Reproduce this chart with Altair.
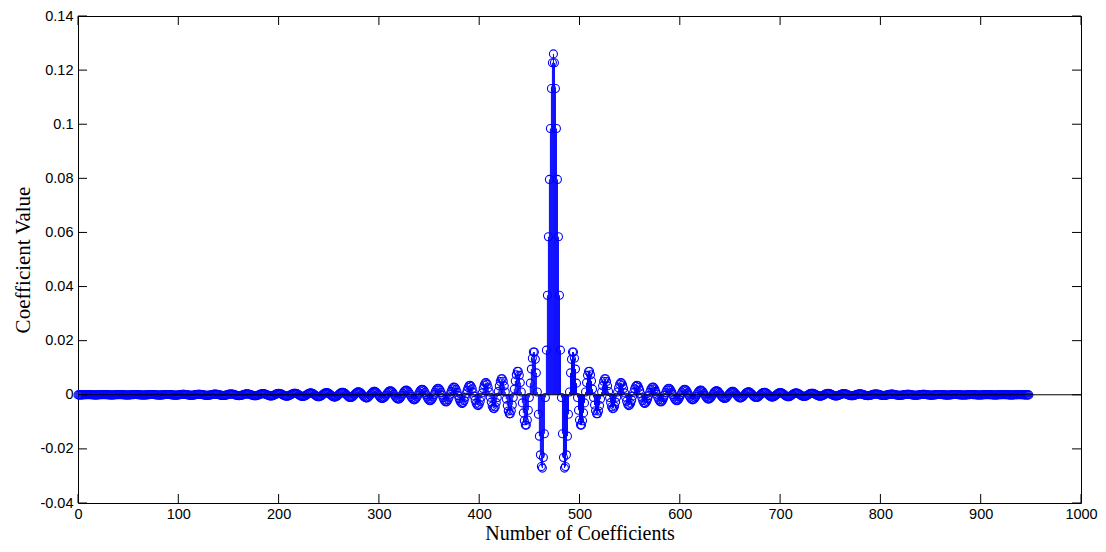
import altair as alt
import pandas as pd

# Filter coefficients from the centre tap (index 474) outwards.
# The filter is symmetric, so the left half mirrors this list.
half_coeffs = [
    0.126, 0.1227, 0.1132, 0.0984, 0.0796, 0.0584, 0.0368, 0.0165,
    -0.0010, -0.0144, -0.0232, -0.0271, -0.0265, -0.0222, -0.0153, -0.0072,
    0.0010, 0.0081, 0.0131, 0.0158, 0.0158, 0.0135, 0.0095, 0.0043,
    -0.0010, -0.0057, -0.0093, -0.0112, -0.0112, -0.0096, -0.0067, -0.0030,
    0.0010, 0.0045, 0.0072, 0.0086, 0.0087, 0.0074, 0.0051, 0.0021,
    -0.0010, -0.0038, -0.0059, -0.0070, -0.0070, -0.0060, -0.0040, -0.0016,
    0.0010, 0.0033, 0.0050, 0.0059, 0.0059, 0.0049, 0.0033, 0.0012,
    -0.0010, -0.0029, -0.0044, -0.0051, -0.0050, -0.0042, -0.0027, -0.0009,
    0.0010, 0.0026, 0.0039, 0.0045, 0.0044, 0.0036, 0.0023, 0.0007,
    -0.0009, -0.0024, -0.0035, -0.0040, -0.0038, -0.0031, -0.0020, -0.0005,
    0.0009, 0.0022, 0.0031, 0.0035, 0.0034, 0.0027, 0.0017, 0.0004,
    -0.0009, -0.0021, -0.0029, -0.0032, -0.0030, -0.0024, -0.0015, -0.0003,
    0.00090, 0.00192, 0.00262, 0.00290, 0.00274, 0.00216, 0.00126, 0.00019,
    -0.00088, -0.00179, -0.00241, -0.00264, -0.00247, -0.00192, -0.00109, -0.00011,
    0.00086, 0.00168, 0.00223, 0.00242, 0.00224, 0.00171, 0.00094, 0.00004,
    -0.00084, -0.00158, -0.00206, -0.00222, -0.00203, -0.00153, -0.00082, 0.00001,
    0.00082, 0.00149, 0.00191, 0.00204, 0.00184, 0.00137, 0.00070, -0.00006,
    -0.00080, -0.00140, -0.00178, -0.00187, -0.00168, -0.00123, -0.00061, 0.00010,
    0.00078, 0.00132, 0.00165, 0.00173, 0.00153, 0.00111, 0.00052, -0.00014,
    -0.00076, -0.00125, -0.00154, -0.00159, -0.00140, -0.00099, -0.00044, 0.00016,
    0.00073, 0.00118, 0.00144, 0.00147, 0.00127, 0.00089, 0.00037, -0.00019,
    -0.00071, -0.00111, -0.00134, -0.00135, -0.00116, -0.00080, -0.00031, 0.00021,
    0.00068, 0.00105, 0.00125, 0.00125, 0.00106, 0.00071, 0.00026, -0.00022,
    -0.00066, -0.00099, -0.00116, -0.00115, -0.00097, -0.00064, -0.00021, 0.00023,
    0.00063, 0.00093, 0.00108, 0.00106, 0.00088, 0.00057, 0.00017, -0.00024,
    -0.00061, -0.00088, -0.00101, -0.00098, -0.00080, -0.00050, -0.00014, 0.00025,
    0.00058, 0.00083, 0.00094, 0.00090, 0.00073, 0.00045, 0.00010, -0.00025,
    -0.00056, -0.00078, -0.00087, -0.00083, -0.00066, -0.00039, -0.00007, 0.00025,
    0.00053, 0.00073, 0.00081, 0.00076, 0.00060, 0.00035, 0.00005, -0.00025,
    -0.00051, -0.00068, -0.00075, -0.00070, -0.00054, -0.00030, -0.00003, 0.00025,
    0.00048, 0.00064, 0.00069, 0.00064, 0.00049, 0.00027, 0.00001, -0.00025,
    -0.00046, -0.00059, -0.00064, -0.00058, -0.00044, -0.00023, 0.00001, 0.00024,
    0.00043, 0.00055, 0.00059, 0.00053, 0.00039, 0.00020, -0.00002, -0.00023,
    -0.00041, -0.00051, -0.00054, -0.00048, -0.00035, -0.00017, 0.00003, 0.00023,
    0.00038, 0.00048, 0.00050, 0.00044, 0.00032, 0.00015, -0.00004, -0.00022,
    -0.00036, -0.00044, -0.00045, -0.00040, -0.00028, -0.00012, 0.00005, 0.00021,
    0.00034, 0.00041, 0.00042, 0.00036, 0.00025, 0.00010, -0.00006, -0.00020,
    -0.00031, -0.00038, -0.00038, -0.00032, -0.00022, -0.00009, 0.00006, 0.00019,
    0.00029, 0.00035, 0.00035, 0.00029, 0.00019, 0.00007, -0.00006, -0.00018,
    -0.00027, -0.00032, -0.00031, -0.00026, -0.00017, -0.00006, 0.00006, 0.00017,
    0.00025, 0.00029, 0.00028, 0.00023, 0.00015, 0.00004, -0.00007, -0.00016,
    -0.00023, -0.00027, -0.00026, -0.00021, -0.00013, -0.00003, 0.00007, 0.00015,
    0.00021, 0.00024, 0.00023, 0.00019, 0.00011, 0.00002, -0.00007, -0.00014,
    -0.00020, -0.00022, -0.00021, -0.00016, -0.00010, -0.00002, 0.00006, 0.00013,
    0.00018, 0.00020, 0.00019, 0.00015, 0.00008, 0.00001, -0.00006, -0.00012,
    -0.00016, -0.00018, -0.00017, -0.00013, -0.00007, -0.00001, 0.00006, 0.00011,
    0.00015, 0.00016, 0.00015, 0.00011, 0.00006, 0.00000, -0.00006, -0.00011,
    -0.00014, -0.00015, -0.00013, -0.00010, -0.00005, 0.00000, 0.00005, 0.00010,
    0.00012, 0.00013, 0.00012, 0.00009, 0.00004, -0.00001, -0.00005, -0.00009,
    -0.00011, -0.00012, -0.00010, -0.00008, -0.00004, 0.00001, 0.00005, 0.00008,
    0.00010, 0.00011, 0.00009, 0.00007, 0.00003, -0.00001, -0.00005, -0.00008,
    -0.00009, -0.00009, -0.00008, -0.00006, -0.00003, 0.00001, 0.00004, 0.00007,
    0.00008, 0.00009, 0.00007, 0.00005, 0.00002, -0.00001, -0.00004, -0.00006,
    -0.00008, -0.00008, -0.00007, -0.00004, -0.00002, 0.00001, 0.00004, 0.00006,
    0.00007, 0.00007, 0.00006, 0.00004, 0.00001, -0.00001, -0.00004, -0.00006,
    -0.00007, -0.00006, -0.00005, -0.00003, -0.00001, 0.00001, 0.00004, 0.00005,
    0.00006, 0.00006, 0.00005, 0.00003, 0.00001, -0.00001, -0.00004, -0.00005,
    -0.00006, -0.00006, -0.00005, -0.00003, -0.00001, 0.00002, 0.00003, 0.00005,
    0.00006, 0.00005, 0.00004, 0.00003, 0.00001, -0.00002, -0.00003, -0.00005,
    -0.00005, -0.00005, -0.00004,
]

# symmetric filter: left half is the mirror image of the right half
coeffs = half_coeffs[::-1] + half_coeffs[1:]
indices = list(range(len(coeffs)))

x_ticks = [0, 100, 200, 300, 400, 500, 600, 700, 800, 900, 1000]
y_ticks = [-0.04, -0.02, 0, 0.02, 0.04, 0.06, 0.08, 0.1, 0.12, 0.14]

W, H = 1003, 487
TICK = 9
BLUE = "#0000FF"
SANS = "Liberation Sans"
SERIF = "Liberation Serif"

df = pd.DataFrame({"n": indices, "h": coeffs})
xt = pd.DataFrame({"t": x_ticks})
yt = pd.DataFrame({"t": y_ticks})
zero = pd.DataFrame({"z": [0]})

xscale = alt.Scale(domain=[0, 1000], nice=False, zero=False)
yscale = alt.Scale(domain=[-0.04, 0.14], nice=False, zero=False)

xaxis = alt.Axis(
    values=x_ticks, tickSize=0, domain=False, grid=False,
    labelFont=SANS, labelFontSize=14.5, labelColor="black", labelPadding=4,
    labelFlush=False, labelOverlap=False, labelExpr="'' + datum.value",
    title="Number of Coefficients", titleFont=SERIF, titleFontSize=20,
    titleFontWeight="normal", titleColor="black",
    titleX=W / 2, titleY=36.5, titleBaseline="alphabetic", titleAlign="center",
)
yaxis = alt.Axis(
    values=y_ticks, tickSize=0, domain=False, grid=False,
    labelFont=SANS, labelFontSize=14.5, labelColor="black", labelPadding=5,
    labelOverlap=False, labelExpr="'' + datum.value",
    title="Coefficient Value", titleFont=SERIF, titleFontSize=21,
    titleFontWeight="normal", titleColor="black",
    titleX=-49, titleY=H / 2, titleBaseline="alphabetic", titleAlign="center",
    titleAngle=270,
)

stems = alt.Chart(df).mark_rule(color=BLUE, strokeWidth=1).encode(
    x=alt.X("n:Q", scale=xscale, axis=xaxis),
    y=alt.Y("h:Q", scale=yscale, axis=yaxis),
    y2=alt.datum(0),
)
points = alt.Chart(df).mark_point(
    shape="circle", filled=False, size=64, color=BLUE, strokeWidth=1.1, opacity=1
).encode(x="n:Q", y="h:Q")

baseline = alt.Chart(zero).mark_rule(color="black", strokeWidth=1).encode(y="z:Q")

tick_bottom = alt.Chart(xt).mark_rule(color="black", strokeWidth=1).encode(
    x="t:Q", y=alt.value(H), y2=alt.value(H - TICK))
tick_top = alt.Chart(xt).mark_rule(color="black", strokeWidth=1).encode(
    x="t:Q", y=alt.value(0), y2=alt.value(TICK))
tick_left = alt.Chart(yt).mark_rule(color="black", strokeWidth=1).encode(
    y="t:Q", x=alt.value(0), x2=alt.value(TICK))
tick_right = alt.Chart(yt).mark_rule(color="black", strokeWidth=1).encode(
    y="t:Q", x=alt.value(W - TICK), x2=alt.value(W))

chart = alt.layer(
    stems, points, baseline, tick_bottom, tick_top, tick_left, tick_right
).properties(
    width=W, height=H,
    autosize=alt.AutoSizeParams(type="none"),
    padding={"left": 70, "top": 8, "right": 17, "bottom": 41},
    background="white",
).configure_view(stroke="black", strokeWidth=1)

chart.save("out.html", embed_options={"renderer": "svg", "actions": False})
